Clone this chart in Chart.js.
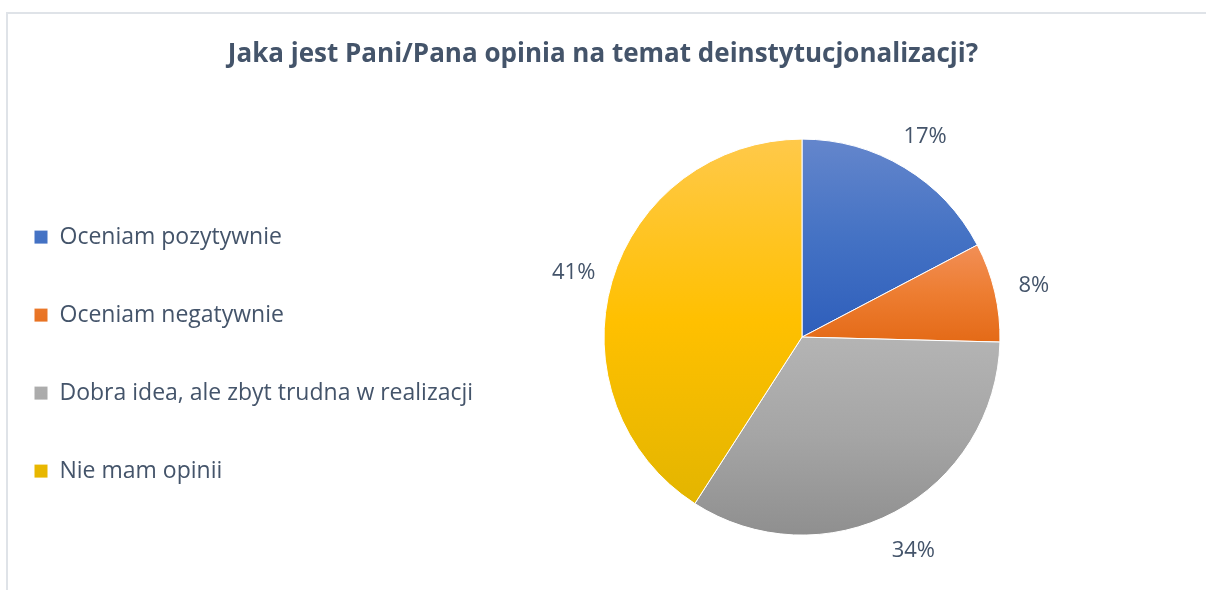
<!DOCTYPE html>
<html>
<head>
<meta charset="utf-8">
<script src="https://cdn.jsdelivr.net/npm/chart.js@4/dist/chart.umd.min.js"></script>
<style>
  html, body { margin: 0; padding: 0; background: #fff; overflow: hidden; width: 1206px; height: 590px; }
  #frame { position: absolute; left: 6px; top: 12px; width: 1400px; height: 800px; border-top: 2px solid #dfe3e8; border-left: 2px solid #dfe3e8; }
  #myChart { position: absolute; left: -21px; top: 0; }
</style>
</head>
<body>
<div id="frame"></div>
<canvas id="myChart" width="1248" height="590"></canvas>
<script>
const categories = [
    'Oceniam pozytywnie',
    'Oceniam negatywnie',
    'Dobra idea, ale zbyt trudna w realizacji',
    'Nie mam opinii',
]
const shares = [17.3, 8.1, 33.7, 40.9]

const baseColors = ['#4472c4', '#ed7d31', '#a5a5a5', '#ffc000']
const lightColors = ['#6486cc', '#f28f57', '#b4b4b4', '#ffc94a']
const darkColors = ['#2e5ebb', '#e46a17', '#8f8f8f', '#e3b500']

const PIE_R = 198
const textColor = '#44546a'
const font = "'Open Sans', 'Noto Sans', sans-serif"

// vertical gradient over the bounding box of each slice
function sliceFill(ctx) {
    const i = ctx.dataIndex
    const area = ctx.chart.chartArea
    if (!area || i === undefined) return baseColors[i || 0]
    const cy = (area.top + area.bottom) / 2
    const total = shares.reduce((a, b) => a + b, 0)
    let before = 0
    for (let k = 0; k < i; k++) before += shares[k]
    const a0 = -Math.PI / 2 + (before / total) * 2 * Math.PI
    const a1 = a0 + (shares[i] / total) * 2 * Math.PI
    const ys = [cy, cy + PIE_R * Math.sin(a0), cy + PIE_R * Math.sin(a1)]
    if (a0 <= -Math.PI / 2 + 1e-6 || a1 >= 1.5 * Math.PI - 1e-6) ys.push(cy - PIE_R)
    if (a0 < Math.PI / 2 && a1 > Math.PI / 2) ys.push(cy + PIE_R)
    const top = Math.min(...ys)
    const bottom = Math.max(...ys)
    const g = ctx.chart.ctx.createLinearGradient(0, top, 0, bottom)
    g.addColorStop(0, lightColors[i])
    g.addColorStop(0.5, baseColors[i])
    g.addColorStop(1, darkColors[i])
    return g
}

const outsideLabels = {
    id: 'outsideLabels',
    afterDatasetsDraw(chart) {
        const c = chart.ctx
        const meta = chart.getDatasetMeta(0)
        c.save()
        c.font = '22px ' + font
        c.fillStyle = textColor
        c.textAlign = 'center'
        c.textBaseline = 'middle'
        meta.data.forEach((arc, i) => {
            const mid = (arc.startAngle + arc.endAngle) / 2
            const r = arc.outerRadius + 40
            c.fillText(Math.round(shares[i]) + '%', arc.x + Math.cos(mid) * r, arc.y + Math.sin(mid) * r + 3)
        })
        c.restore()
    },
}

// legend is kept narrow for the layout, but its long label must not be clipped
const legendOverflow = {
    id: 'legendOverflow',
    beforeDraw(chart) {
        const lg = chart.legend
        lg.width = 560
        lg.right = lg.left + 560
    },
}

const data = {
    labels: categories,
    datasets: [
        {
            data: shares,
            backgroundColor: sliceFill,
            borderColor: '#ffffff',
            borderWidth: 1,
        },
    ],
}

const config = {
    type: 'pie',
    data: data,
    options: {
        responsive: false,
        animation: false,
        events: [],
        radius: PIE_R,
        layout: { padding: { left: 0, right: 0, top: 0, bottom: 2 } },
        plugins: {
            title: {
                display: true,
                text: 'Jaka jest Pani/Pana opinia na temat deinstytucjonalizacji?',
                color: textColor,
                font: { family: font, size: 26, weight: 'bold' },
                padding: { top: 38.7, bottom: 16.3 },
            },
            legend: {
                position: 'left',
                fullSize: false,
                maxWidth: 398,
                title: { display: true, text: ' ', font: { size: 12 }, padding: { top: 0, bottom: 19.6 } },
                labels: {
                    color: textColor,
                    font: { family: font, size: 23 },
                    boxWidth: 14,
                    boxHeight: 14,
                    padding: 55,
                },
            },
            tooltip: { enabled: false },
        },
    },
    plugins: [outsideLabels, legendOverflow],
}

const myChart = new Chart(document.getElementById('myChart'), config)
</script>
</body>
</html>
